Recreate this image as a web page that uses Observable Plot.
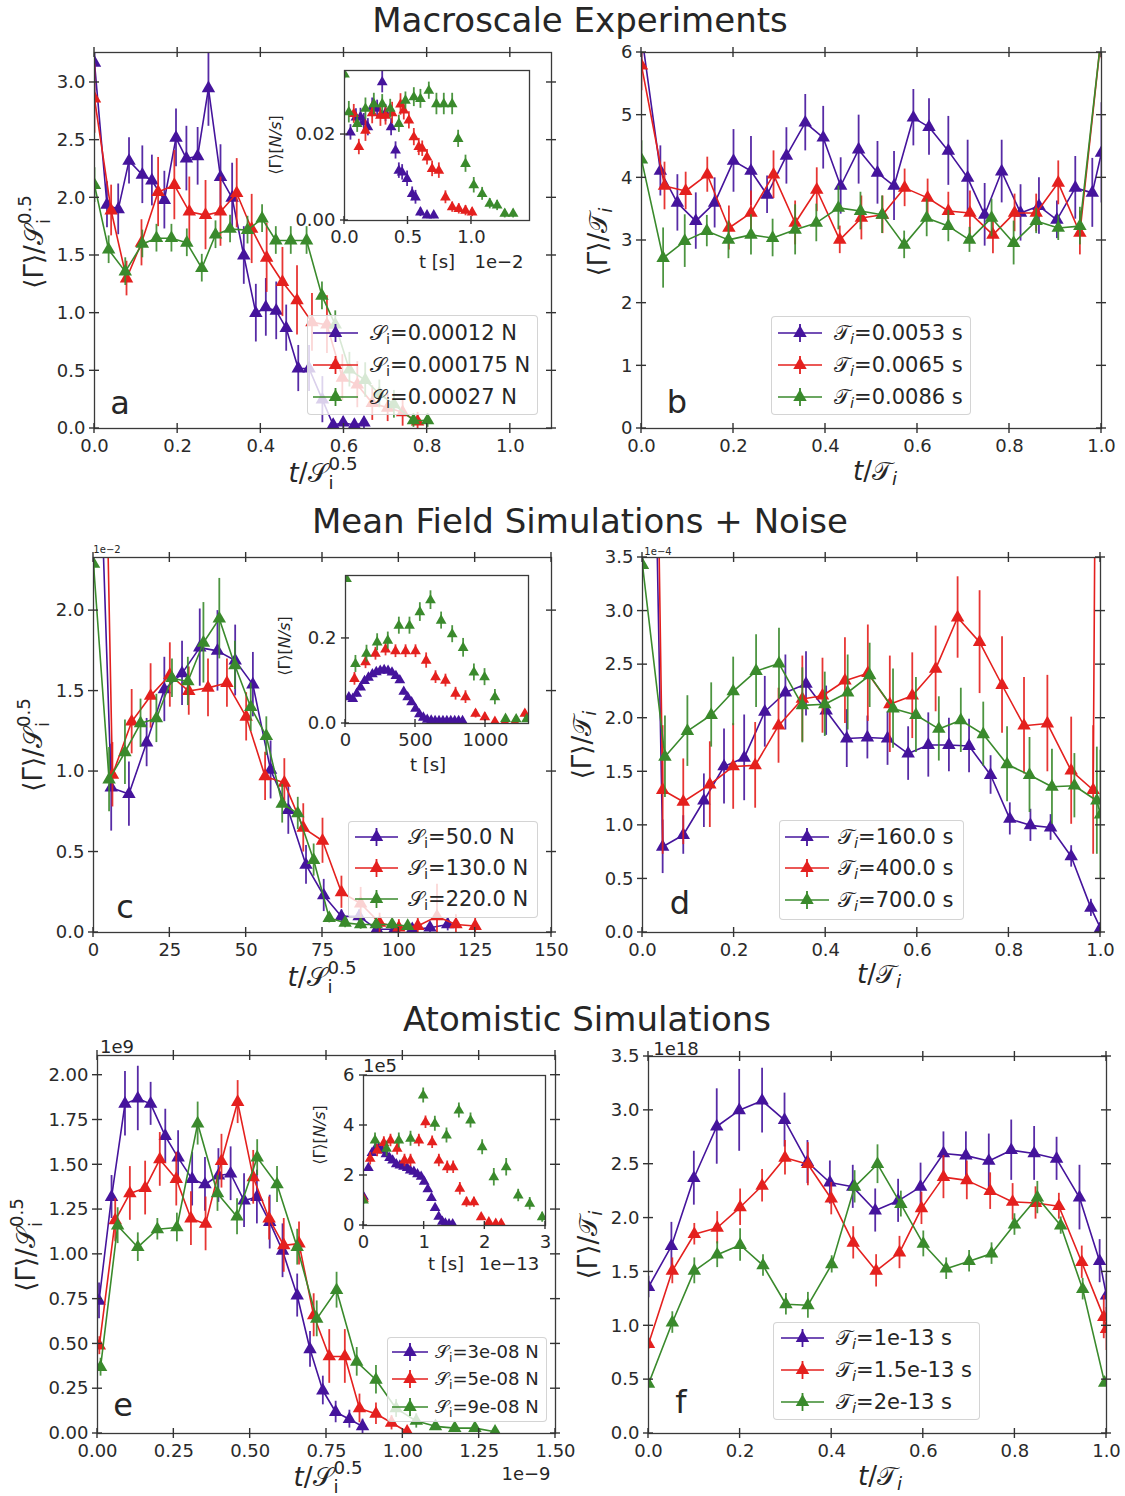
<!DOCTYPE html>
<html>
<head>
<meta charset="utf-8">
<script src="https://cdn.jsdelivr.net/npm/d3@7"></script>
<script src="https://cdn.jsdelivr.net/npm/@observablehq/plot@0.6"></script>
<style>
  html, body { margin: 0; background: #fff; }
  #fig { position: relative; width: 1125px; height: 1496px; overflow: hidden; background: #fff;
         font-family: "DejaVu Sans", "Noto Sans", sans-serif; color: #262626; }
  .t { position: absolute; white-space: nowrap; line-height: 1; transform: translate(-50%, -50%); }
  .rot { transform: translate(-50%, -50%) rotate(-90deg); }
  .cal { font-family: "DejaVu Serif", "DejaVu Sans", serif; }
  /* stacked subscript "i" and superscript "0.5" that do not enlarge the line box */
  .ss { display: inline-block; position: relative; width: 1.15em; height: 0.7em; }
  .ss span { position: absolute; left: 0.06em; font-size: 0.7em; line-height: 1; }
  .ss .sp { top: -0.46em; }
  .ss .sbb { top: 0.56em; }
  .sb { font-size: 0.7em; position: relative; top: 0.3em; }
  .legend { position: absolute; background: rgba(255,255,255,0.8); border: 1px solid rgba(204,204,204,0.85);
            border-radius: 4px; box-sizing: border-box; }
  .lt { position: absolute; white-space: nowrap; line-height: 1; transform: translateY(-50%); }
</style>
</head>
<body>
<div id="fig"></div>
<script>
// Series colours: smallest, middle, largest parameter value
const COLORS = ["#45149c", "#e4201e", "#3a8a2c"];
const FONT = '"DejaVu Sans", "Noto Sans", sans-serif';

// ---------- (a) Macroscale experiments: <Γ>/S_i^0.5 vs t/S_i^0.5 ----------
const aLegend = ["0.00012 N", "0.000175 N", "0.00027 N"];
const a1t = [0, 0.03, 0.057, 0.083, 0.115, 0.138, 0.168, 0.196, 0.221, 0.248, 0.274, 0.303, 0.331, 0.359, 0.388, 0.412, 0.437, 0.461, 0.49, 0.516, 0.548, 0.574, 0.598, 0.625, 0.648];
const a1g = [3.17, 1.94, 1.90, 2.32, 2.20, 2.15, 1.98, 2.52, 2.34, 2.36, 2.95, 2.18, 2.00, 1.50, 1.00, 1.05, 1.02, 0.87, 0.52, 0.52, 0.25, 0.03, 0.05, 0.03, 0.05];
const a1e = [0.3, 0.2, 0.22, 0.2, 0.25, 0.22, 0.25, 0.25, 0.28, 0.25, 0.33, 0.28, 0.3, 0.25, 0.25, 0.25, 0.25, 0.2, 0.2, 0.2, 0.2, 0.05, 0.05, 0.05, 0.05];
const a2t = [0, 0.04, 0.077, 0.113, 0.153, 0.192, 0.228, 0.267, 0.303, 0.342, 0.378, 0.414, 0.452, 0.487, 0.523, 0.559, 0.596, 0.632, 0.668, 0.705, 0.741, 0.777];
const a2g = [2.86, 1.89, 1.30, 1.61, 2.05, 2.11, 1.88, 1.85, 1.88, 2.04, 1.73, 1.48, 1.27, 1.11, 0.92, 0.90, 0.44, 0.38, 0.22, 0.18, 0.14, 0.06];
const a2e = [0.3, 0.22, 0.15, 0.2, 0.3, 0.3, 0.3, 0.3, 0.3, 0.3, 0.3, 0.3, 0.3, 0.3, 0.25, 0.25, 0.2, 0.2, 0.15, 0.12, 0.12, 0.08];
const a3t = [0, 0.034, 0.074, 0.115, 0.149, 0.185, 0.222, 0.258, 0.291, 0.326, 0.368, 0.403, 0.436, 0.472, 0.51, 0.547, 0.579, 0.613, 0.651, 0.685, 0.72, 0.767, 0.801];
const a3g = [2.11, 1.55, 1.36, 1.60, 1.65, 1.65, 1.61, 1.39, 1.68, 1.73, 1.72, 1.82, 1.63, 1.63, 1.63, 1.15, 0.90, 0.51, 0.42, 0.30, 0.21, 0.07, 0.07];
const a3e = [0.15, 0.12, 0.12, 0.12, 0.12, 0.12, 0.12, 0.12, 0.12, 0.12, 0.12, 0.12, 0.12, 0.12, 0.12, 0.12, 0.12, 0.15, 0.15, 0.12, 0.12, 0.06, 0.06];
// inset (a): raw <Γ> [N/s] vs t [1e-2 s]
const ia1t = [0.047, 0.09, 0.126, 0.152, 0.184, 0.218, 0.257, 0.297, 0.323, 0.367, 0.402, 0.428, 0.454, 0.493, 0.533, 0.559, 0.598, 0.65, 0.703];
const ia1g = [0.0205, 0.024, 0.0241, 0.0229, 0.0217, 0.0263, 0.026, 0.0322, 0.025, 0.0217, 0.0163, 0.0116, 0.0112, 0.0097, 0.0062, 0.0054, 0.0019, 0.0012, 0.0012];
const ia1e = [0.0018, 0.002, 0.002, 0.002, 0.002, 0.0022, 0.002, 0.0025, 0.002, 0.002, 0.002, 0.0018, 0.0018, 0.0018, 0.0016, 0.0016, 0.001, 0.0008, 0.0008];
const ia2t = [0.073, 0.113, 0.165, 0.218, 0.283, 0.323, 0.375, 0.441, 0.467, 0.507, 0.546, 0.585, 0.612, 0.65, 0.69, 0.743, 0.795, 0.848, 0.9, 0.953, 1.005];
const ia2g = [0.0248, 0.0171, 0.0209, 0.025, 0.0244, 0.0244, 0.025, 0.027, 0.0256, 0.0233, 0.0194, 0.0171, 0.0167, 0.0147, 0.012, 0.0116, 0.0054, 0.0031, 0.0027, 0.0023, 0.0019];
const ia2e = [0.0022, 0.0018, 0.0025, 0.0025, 0.0025, 0.0022, 0.0025, 0.0025, 0.0022, 0.002, 0.002, 0.002, 0.0018, 0.0018, 0.0018, 0.0018, 0.0015, 0.0012, 0.0012, 0.0012, 0.001];
const ia3t = [0.0, 0.034, 0.1, 0.165, 0.231, 0.297, 0.36, 0.428, 0.48, 0.546, 0.598, 0.664, 0.724, 0.782, 0.848, 0.895, 0.953, 1.018, 1.084, 1.144, 1.202, 1.262, 1.328];
const ia3g = [0.034, 0.0252, 0.0225, 0.026, 0.0271, 0.0271, 0.026, 0.0225, 0.0279, 0.0287, 0.0283, 0.0302, 0.0271, 0.0271, 0.0271, 0.019, 0.0132, 0.0082, 0.0062, 0.0039, 0.0035, 0.0016, 0.0016];
const ia3e = [0.001, 0.0025, 0.002, 0.0025, 0.0025, 0.0022, 0.0022, 0.002, 0.002, 0.0022, 0.0022, 0.002, 0.0025, 0.0025, 0.0025, 0.002, 0.002, 0.0018, 0.0015, 0.0012, 0.0012, 0.001, 0.001];

// ---------- (b) Macroscale experiments: <Γ>/T_i vs t/T_i ----------
const bLegend = ["0.0053 s", "0.0065 s", "0.0086 s"];
const b1t = [0, 0.041, 0.078, 0.118, 0.159, 0.2, 0.238, 0.273, 0.315, 0.356, 0.395, 0.433, 0.472, 0.513, 0.549, 0.591, 0.625, 0.667, 0.709, 0.746, 0.783, 0.824, 0.864, 0.903, 0.943, 0.98, 1.0];
const b1g = [6.3, 4.11, 3.6, 3.31, 3.6, 4.27, 4.11, 3.73, 4.35, 4.88, 4.64, 3.87, 4.45, 4.08, 3.87, 4.96, 4.81, 4.43, 4.0, 3.41, 4.1, 3.44, 3.55, 3.33, 3.84, 3.76, 4.4];
const b1e = [0.5, 0.4, 0.45, 0.45, 0.4, 0.5, 0.55, 0.3, 0.45, 0.45, 0.5, 0.45, 0.55, 0.5, 0.55, 0.45, 0.45, 0.55, 0.6, 0.5, 0.5, 0.45, 0.45, 0.3, 0.5, 0.55, 0.8];
const b2t = [0, 0.05, 0.096, 0.143, 0.19, 0.238, 0.287, 0.334, 0.381, 0.431, 0.478, 0.524, 0.572, 0.622, 0.667, 0.714, 0.764, 0.811, 0.858, 0.906, 0.953, 1.0];
const b2g = [5.79, 3.87, 3.79, 4.05, 3.2, 3.44, 4.05, 3.28, 3.81, 3.01, 3.36, 3.41, 3.84, 3.68, 3.47, 3.44, 3.09, 3.44, 3.44, 3.92, 3.12, 6.3];
const b2e = [0.4, 0.38, 0.3, 0.28, 0.35, 0.35, 0.38, 0.35, 0.35, 0.22, 0.35, 0.3, 0.3, 0.3, 0.3, 0.35, 0.3, 0.3, 0.3, 0.35, 0.35, 0.4];
const b3t = [0, 0.047, 0.094, 0.142, 0.189, 0.238, 0.285, 0.334, 0.38, 0.428, 0.476, 0.523, 0.571, 0.62, 0.667, 0.713, 0.761, 0.809, 0.858, 0.906, 0.953, 1.0];
const b3g = [4.29, 2.72, 2.99, 3.15, 3.01, 3.09, 3.04, 3.17, 3.28, 3.52, 3.47, 3.41, 2.93, 3.36, 3.23, 3.01, 3.36, 2.96, 3.31, 3.2, 3.23, 6.3];
const b3e = [0.3, 0.48, 0.42, 0.25, 0.3, 0.32, 0.3, 0.4, 0.3, 0.35, 0.3, 0.3, 0.22, 0.3, 0.25, 0.2, 0.3, 0.35, 0.2, 0.2, 0.3, 0.3];

// ---------- (c) Mean field + noise: <Γ>/S_i^0.5 [1e-2] vs t/S_i^0.5 ----------
const cLegend = ["50.0 N", "130.0 N", "220.0 N"];
const c1t = [0, 5.8, 11.6, 17.4, 23.2, 29, 34.8, 40.6, 46.4, 52.2, 58, 63.8, 69.6, 75.4, 81.2, 87, 92.8, 98.6, 104.4, 110.2, 116];
const c1g = [4.2, 0.90, 0.86, 1.18, 1.51, 1.61, 1.77, 1.75, 1.69, 1.54, 1.01, 0.76, 0.42, 0.23, 0.10, 0.10, 0.02, 0.02, 0.02, 0.03, 0.05];
const c1e = [0.3, 0.27, 0.2, 0.15, 0.2, 0.2, 0.24, 0.25, 0.22, 0.2, 0.18, 0.15, 0.12, 0.1, 0.04, 0.04, 0.03, 0.03, 0.03, 0.03, 0.04];
const c2t = [0, 6.2, 12.5, 18.7, 25, 31.2, 37.5, 43.7, 50, 56.2, 62.5, 68.7, 75, 81.2, 87.5, 93.7, 100, 106.2, 112.5, 118.7, 125];
const c2g = [7.0, 0.98, 1.31, 1.47, 1.60, 1.50, 1.52, 1.55, 1.34, 0.97, 0.93, 0.65, 0.57, 0.25, 0.18, 0.06, 0.03, 0.04, 0.10, 0.05, 0.04];
const c2e = [0.3, 0.2, 0.2, 0.2, 0.2, 0.15, 0.18, 0.15, 0.15, 0.15, 0.15, 0.15, 0.14, 0.1, 0.1, 0.06, 0.05, 0.05, 0.2, 0.06, 0.05];
const c3t = [0, 5.1, 10.3, 15.4, 20.6, 25.7, 30.9, 36, 41.2, 46.3, 51.5, 56.6, 61.8, 66.9, 72.1, 77.2, 82.4, 87.5, 92.6, 97.8, 102.9];
const c3g = [2.29, 0.95, 1.12, 1.30, 1.33, 1.58, 1.56, 1.80, 1.95, 1.66, 1.40, 1.22, 0.80, 0.74, 0.45, 0.09, 0.06, 0.05, 0.05, 0.05, 0.04];
const c3e = [0.1, 0.2, 0.2, 0.15, 0.15, 0.12, 0.15, 0.25, 0.25, 0.15, 0.15, 0.12, 0.12, 0.1, 0.1, 0.03, 0.03, 0.03, 0.03, 0.03, 0.03];
// inset (c): raw <Γ> [N/s] vs t [s]
const ic1t = [24, 52, 80, 108, 136, 164, 192, 220, 248, 276, 304, 332, 360, 388, 416, 444, 472, 500, 528, 556, 584, 612, 640, 668, 696, 724, 752, 780, 808, 836];
const ic1g = [0.062, 0.058, 0.07, 0.085, 0.1, 0.108, 0.116, 0.121, 0.124, 0.126, 0.124, 0.12, 0.112, 0.102, 0.075, 0.062, 0.05, 0.035, 0.022, 0.014, 0.009, 0.007, 0.006, 0.006, 0.006, 0.006, 0.006, 0.006, 0.006, 0.006];
const ic1e = [0.008, 0.008, 0.008, 0.008, 0.008, 0.008, 0.008, 0.008, 0.008, 0.008, 0.008, 0.008, 0.008, 0.008, 0.008, 0.008, 0.007, 0.006, 0.005, 0.004, 0.003, 0.003, 0.002, 0.002, 0.002, 0.002, 0.002, 0.002, 0.002, 0.002];
const ic2t = [64, 143, 214, 286, 357, 429, 500, 576, 643, 714, 786, 857, 929, 995, 1067, 1138, 1210, 1281];
const ic2g = [0.105, 0.144, 0.164, 0.174, 0.17, 0.17, 0.17, 0.148, 0.109, 0.101, 0.07, 0.062, 0.023, 0.015, 0.004, 0.003, 0.003, 0.023];
const ic2e = [0.015, 0.015, 0.015, 0.015, 0.015, 0.015, 0.015, 0.018, 0.015, 0.015, 0.015, 0.015, 0.01, 0.01, 0.004, 0.003, 0.003, 0.01];
const ic3t = [7, 71, 150, 226, 302, 381, 457, 531, 607, 683, 762, 840, 917, 993, 1067, 1143, 1219, 1293];
const ic3g = [0.34, 0.14, 0.164, 0.191, 0.195, 0.23, 0.23, 0.262, 0.29, 0.242, 0.21, 0.178, 0.12, 0.109, 0.062, 0.011, 0.01, 0.01];
const ic3e = [0.005, 0.02, 0.02, 0.02, 0.02, 0.02, 0.02, 0.022, 0.022, 0.02, 0.02, 0.022, 0.02, 0.02, 0.018, 0.004, 0.004, 0.004];

// ---------- (d) Mean field + noise: <Γ>/T_i [1e-4] vs t/T_i ----------
const dLegend = ["160.0 s", "400.0 s", "700.0 s"];
const d1t = [0, 0.044, 0.089, 0.134, 0.178, 0.222, 0.267, 0.312, 0.357, 0.401, 0.446, 0.491, 0.535, 0.58, 0.624, 0.669, 0.713, 0.76, 0.802, 0.847, 0.891, 0.936, 0.979, 1.0];
const d1g = [11, 0.80, 0.91, 1.23, 1.55, 1.63, 2.06, 2.24, 2.32, 2.07, 1.81, 1.82, 1.81, 1.67, 1.75, 1.75, 1.74, 1.47, 1.06, 1.0, 0.98, 0.71, 0.23, 0.04];
const d1e = [0.3, 0.25, 0.18, 0.25, 0.35, 0.4, 0.33, 0.35, 0.3, 0.23, 0.27, 0.2, 0.25, 0.25, 0.3, 0.25, 0.25, 0.18, 0.15, 0.15, 0.12, 0.1, 0.08, 0.05];
const d2t = [0, 0.044, 0.089, 0.147, 0.198, 0.246, 0.297, 0.349, 0.393, 0.442, 0.492, 0.54, 0.589, 0.64, 0.688, 0.736, 0.785, 0.833, 0.884, 0.936, 0.984, 1.0];
const d2g = [14, 1.33, 1.22, 1.38, 1.55, 1.56, 1.93, 2.18, 2.21, 2.35, 2.42, 2.13, 2.21, 2.46, 2.94, 2.71, 2.31, 1.93, 1.95, 1.51, 1.33, 12];
const d2e = [0.5, 0.6, 0.4, 0.4, 0.4, 0.4, 0.35, 0.4, 0.35, 0.4, 0.45, 0.45, 0.4, 0.4, 0.38, 0.48, 0.45, 0.45, 0.45, 0.5, 0.6, 0.5];
const d3t = [0, 0.049, 0.098, 0.15, 0.198, 0.248, 0.298, 0.349, 0.398, 0.448, 0.496, 0.547, 0.597, 0.647, 0.695, 0.744, 0.796, 0.845, 0.894, 0.943, 0.992, 1.0];
const d3g = [3.43, 1.64, 1.88, 2.03, 2.25, 2.44, 2.51, 2.12, 2.13, 2.24, 2.40, 2.09, 2.03, 1.90, 1.98, 1.85, 1.57, 1.47, 1.36, 1.37, 1.23, 1.1];
const d3e = [0.1, 0.38, 0.33, 0.3, 0.32, 0.34, 0.33, 0.35, 0.3, 0.35, 0.3, 0.37, 0.35, 0.3, 0.3, 0.3, 0.35, 0.35, 0.35, 0.3, 0.5, 0.6];

// ---------- (e) Atomistic: <Γ>/S_i^0.5 [1e9] vs t/S_i^0.5 [1e-9] ----------
const eLegend = ["3e-08 N", "5e-08 N", "9e-08 N"];
const e1t = [0.005, 0.046, 0.09, 0.132, 0.174, 0.222, 0.264, 0.31, 0.352, 0.396, 0.436, 0.48, 0.522, 0.564, 0.606, 0.654, 0.696, 0.738, 0.78, 0.825, 0.868];
const e1g = [0.74, 1.32, 1.84, 1.87, 1.84, 1.66, 1.54, 1.42, 1.39, 1.44, 1.45, 1.30, 1.32, 1.18, 1.02, 0.77, 0.47, 0.24, 0.12, 0.08, 0.04];
const e1e = [0.1, 0.12, 0.18, 0.18, 0.12, 0.15, 0.15, 0.15, 0.15, 0.15, 0.15, 0.15, 0.15, 0.15, 0.15, 0.12, 0.1, 0.08, 0.06, 0.05, 0.04];
const e2t = [0.006, 0.058, 0.106, 0.156, 0.204, 0.258, 0.306, 0.354, 0.406, 0.459, 0.51, 0.562, 0.61, 0.66, 0.708, 0.759, 0.81, 0.858, 0.912, 0.963, 1.014];
const e2g = [0.49, 1.19, 1.34, 1.37, 1.53, 1.42, 1.20, 1.17, 1.52, 1.85, 1.43, 1.20, 1.05, 1.06, 0.66, 0.43, 0.43, 0.14, 0.11, 0.06, 0.01];
const e2e = [0.05, 0.12, 0.15, 0.15, 0.15, 0.15, 0.15, 0.15, 0.15, 0.12, 0.15, 0.12, 0.15, 0.12, 0.12, 0.15, 0.15, 0.08, 0.06, 0.04, 0.02];
const e3t = [0.01, 0.066, 0.132, 0.196, 0.26, 0.328, 0.393, 0.457, 0.523, 0.588, 0.654, 0.718, 0.783, 0.849, 0.912, 0.978, 1.044, 1.107, 1.17, 1.236, 1.302];
const e3g = [0.37, 1.16, 1.04, 1.14, 1.15, 1.73, 1.34, 1.21, 1.54, 1.39, 1.04, 0.64, 0.80, 0.40, 0.30, 0.14, 0.07, 0.04, 0.03, 0.03, 0.01];
const e3e = [0.05, 0.1, 0.08, 0.06, 0.08, 0.12, 0.1, 0.1, 0.1, 0.1, 0.1, 0.1, 0.1, 0.08, 0.08, 0.05, 0.04, 0.02, 0.02, 0.02, 0.02];
// inset (e): raw <Γ> [1e5 N/s] vs t [1e-13 s]
const ie1t = [0.0, 0.08, 0.14, 0.2, 0.25, 0.31, 0.37, 0.43, 0.48, 0.54, 0.6, 0.66, 0.72, 0.77, 0.83, 0.89, 0.95, 1.0, 1.06, 1.12, 1.18, 1.24, 1.3, 1.35, 1.41, 1.47];
const ie1g = [1.15, 2.3, 2.9, 3.1, 3.1, 3.0, 2.85, 2.7, 2.6, 2.45, 2.4, 2.35, 2.3, 2.2, 2.15, 2.05, 1.95, 1.75, 1.45, 1.1, 0.7, 0.35, 0.15, 0.08, 0.05, 0.05];
const ie1e = [0.15, 0.12, 0.12, 0.12, 0.12, 0.12, 0.12, 0.12, 0.12, 0.12, 0.12, 0.12, 0.12, 0.12, 0.12, 0.12, 0.12, 0.12, 0.12, 0.1, 0.1, 0.08, 0.05, 0.04, 0.03, 0.03];
const ie2t = [0, 0.11, 0.225, 0.335, 0.445, 0.555, 0.676, 0.775, 0.912, 1.022, 1.132, 1.242, 1.38, 1.478, 1.588, 1.698, 1.82, 1.94, 2.066, 2.18, 2.27];
const ie2g = [1.07, 2.67, 3.0, 3.3, 3.4, 3.07, 2.6, 2.6, 3.4, 4.13, 3.33, 2.6, 2.33, 2.33, 1.47, 0.93, 0.93, 0.33, 0.13, 0.07, 0.07];
const ie2e = [0.15, 0.25, 0.25, 0.25, 0.25, 0.25, 0.25, 0.25, 0.25, 0.25, 0.25, 0.25, 0.25, 0.25, 0.25, 0.2, 0.2, 0.12, 0.08, 0.05, 0.05];
const ie3t = [0, 0.19, 0.38, 0.582, 0.775, 0.984, 1.176, 1.368, 1.572, 1.764, 1.956, 2.148, 2.352, 2.55, 2.74, 2.945];
const ie3g = [1.0, 3.4, 3.07, 3.4, 3.47, 5.2, 4.07, 3.6, 4.6, 4.2, 3.13, 1.93, 2.33, 1.2, 0.87, 0.33];
const ie3e = [0.15, 0.3, 0.3, 0.3, 0.3, 0.3, 0.3, 0.3, 0.3, 0.3, 0.3, 0.35, 0.35, 0.25, 0.25, 0.2];

// ---------- (f) Atomistic: <Γ>/T_i [1e18] vs t/T_i ----------
const fLegend = ["1e-13 s", "1.5e-13 s", "2e-13 s"];
const f1t = [0, 0.05, 0.099, 0.149, 0.198, 0.248, 0.297, 0.347, 0.396, 0.446, 0.495, 0.545, 0.594, 0.644, 0.693, 0.743, 0.792, 0.842, 0.891, 0.941, 0.985, 1.0];
const f1g = [1.36, 1.74, 2.37, 2.85, 3.0, 3.09, 2.91, 2.52, 2.33, 2.29, 2.07, 2.16, 2.29, 2.6, 2.58, 2.53, 2.63, 2.6, 2.55, 2.19, 1.6, 1.28];
const f1e = [0.1, 0.22, 0.25, 0.35, 0.38, 0.3, 0.25, 0.2, 0.2, 0.2, 0.2, 0.2, 0.22, 0.2, 0.22, 0.25, 0.28, 0.25, 0.2, 0.3, 0.2, 0.2];
const f2t = [0, 0.052, 0.1, 0.15, 0.2, 0.248, 0.298, 0.348, 0.399, 0.447, 0.497, 0.548, 0.596, 0.644, 0.695, 0.746, 0.795, 0.845, 0.896, 0.946, 0.994, 1.0];
const f2g = [0.83, 1.51, 1.85, 1.91, 2.1, 2.3, 2.56, 2.5, 2.18, 1.77, 1.51, 1.68, 2.09, 2.38, 2.35, 2.25, 2.15, 2.14, 2.11, 1.59, 1.08, 0.97];
const f2e = [0.05, 0.12, 0.1, 0.15, 0.17, 0.15, 0.16, 0.2, 0.15, 0.15, 0.15, 0.15, 0.15, 0.2, 0.18, 0.17, 0.17, 0.15, 0.12, 0.15, 0.2, 0.2];
const f3t = [0, 0.052, 0.1, 0.15, 0.2, 0.25, 0.3, 0.348, 0.4, 0.45, 0.5, 0.551, 0.6, 0.65, 0.7, 0.749, 0.799, 0.849, 0.9, 0.948, 0.996];
const f3g = [0.46, 1.03, 1.51, 1.66, 1.75, 1.56, 1.2, 1.19, 1.57, 2.29, 2.5, 2.13, 1.76, 1.53, 1.6, 1.67, 1.94, 2.19, 1.93, 1.34, 0.47];
const f3e = [0.03, 0.1, 0.12, 0.12, 0.15, 0.1, 0.1, 0.12, 0.08, 0.15, 0.18, 0.12, 0.12, 0.1, 0.1, 0.1, 0.1, 0.15, 0.08, 0.1, 0.03];

// ---------- tick values ----------
const ticks01 = [0, 0.2, 0.4, 0.6, 0.8, 1.0];
const aTicksY = [0, 0.5, 1.0, 1.5, 2.0, 2.5, 3.0];
const bTicksY = [0, 1, 2, 3, 4, 5, 6];
const cTicksX = [0, 25, 50, 75, 100, 125, 150];
const cTicksY = [0, 0.5, 1.0, 1.5, 2.0];
const dTicksY = [0, 0.5, 1.0, 1.5, 2.0, 2.5, 3.0, 3.5];
const eTicksX = [0, 0.25, 0.5, 0.75, 1.0, 1.25, 1.5];
const eTicksY = [0, 0.25, 0.5, 0.75, 1.0, 1.25, 1.5, 1.75, 2.0];
const iaTicksX = [0, 0.5, 1.0], iaTicksY = [0, 0.02];
const icTicksX = [0, 500, 1000], icTicksY = [0, 0.2];
const ieTicksX = [0, 1, 2, 3], ieTicksY = [0, 2, 4, 6];

const fig = document.getElementById("fig");
const ser = (t, g, e) => t.map((v, i) => ({t: v, g: g[i], e: e[i]}));

// in-out ticks on the frame, placed with the plot's own scales
function frameTicks(xt, yt, len, allSides) {
  return (index, {x, y}, values, dims) => {
    const g = d3.create("svg:g").attr("stroke", "#333").attr("stroke-width", 1.4);
    const top = dims.marginTop, bottom = dims.height - dims.marginBottom;
    const left = dims.marginLeft, right = dims.width - dims.marginRight;
    for (const v of xt) {
      const px = x(v);
      g.append("line").attr("x1", px).attr("x2", px).attr("y1", bottom - len).attr("y2", bottom + len);
      if (allSides) g.append("line").attr("x1", px).attr("x2", px).attr("y1", top - len).attr("y2", top + len);
    }
    for (const v of yt) {
      const py = y(v);
      g.append("line").attr("y1", py).attr("y2", py).attr("x1", left - len).attr("x2", left + len);
      if (allSides) g.append("line").attr("y1", py).attr("y2", py).attr("x1", right - len).attr("x2", right + len);
    }
    return g.node();
  };
}

function drawPanel(cfg) {
  const {frame: [L, T, R, B], xDomain, yDomain, xTicks, yTicks, xFmt, yFmt, series,
         inset = false, fontSize = 18, r = 5} = cfg;
  const m = inset ? {l: 56, r: 8, t: 8, b: 34} : {l: 80, r: 24, t: 20, b: 44};
  const marks = [];
  if (inset) marks.push(Plot.frame({fill: "white", stroke: "none"}));
  series.forEach((rows, k) => {
    const color = COLORS[k];
    marks.push(Plot.ruleX(rows, {x: "t", y1: d => d.g - d.e, y2: d => d.g + d.e, stroke: color, strokeWidth: 1.8, strokeOpacity: 0.9, clip: true}));
    if (!inset) marks.push(Plot.line(rows, {x: "t", y: "g", stroke: color, strokeWidth: 1.6, clip: true}));
    marks.push(Plot.dot(rows, {x: "t", y: "g", symbol: "triangle", r, fill: color, stroke: "none", clip: true}));
  });
  marks.push(Plot.frame({stroke: "#3a3a3a", strokeWidth: 1.3}));
  marks.push(frameTicks(xTicks, yTicks, inset ? 4 : 5, !inset));
  marks.push(Plot.axisX({anchor: "bottom", ticks: xTicks, tickFormat: xFmt, tickSize: 0, tickPadding: inset ? 10 : 11, label: null}));
  marks.push(Plot.axisY({anchor: "left", ticks: yTicks, tickFormat: yFmt, tickSize: 0, tickPadding: 9, label: null}));
  const svg = Plot.plot({
    width: R - L + m.l + m.r, height: B - T + m.t + m.b,
    marginLeft: m.l, marginRight: m.r, marginTop: m.t, marginBottom: m.b,
    x: {domain: xDomain, label: null}, y: {domain: yDomain, label: null},
    style: {background: "transparent", fontFamily: FONT, fontSize: fontSize + "px", color: "#2a2a2a", overflow: "visible"},
    marks
  });
  svg.style.position = "absolute";
  svg.style.left = (L - m.l) + "px";
  svg.style.top = (T - m.t) + "px";
  svg.style.maxWidth = "none";
  fig.appendChild(svg);
}

function text(html, x, y, size, extra = "") {
  const el = document.createElement("div");
  el.className = "t " + extra;
  el.style.left = x + "px"; el.style.top = y + "px"; el.style.fontSize = size + "px";
  el.innerHTML = html;
  fig.appendChild(el);
}

function swatch(color, x0, x1, yc) {
  const w = x1 - x0;
  const svg = d3.create("svg").attr("width", w).attr("height", 24)
    .style("position", "absolute").style("left", x0 + "px").style("top", (yc - 12) + "px").style("overflow", "visible");
  svg.append("line").attr("x1", 0).attr("x2", w).attr("y1", 12).attr("y2", 12).attr("stroke", color).attr("stroke-width", 1.6);
  svg.append("line").attr("x1", w / 2).attr("x2", w / 2).attr("y1", 3).attr("y2", 21).attr("stroke", color).attr("stroke-width", 1.8);
  svg.append("path").attr("transform", `translate(${w / 2},12)`).attr("d", d3.symbol(d3.symbolTriangle, 78.5)()).attr("fill", color);
  fig.appendChild(svg.node());
}

function legend({box: [x0, y0, x1, y1], rows, sw, tx, labels, size}) {
  const el = document.createElement("div");
  el.className = "legend";
  Object.assign(el.style, {left: x0 + "px", top: y0 + "px", width: (x1 - x0) + "px", height: (y1 - y0) + "px"});
  fig.appendChild(el);
  labels.forEach((html, k) => {
    swatch(COLORS[k], sw[0], sw[1], rows[k]);
    const t = document.createElement("div");
    t.className = "lt";
    Object.assign(t.style, {left: tx + "px", top: rows[k] + "px", fontSize: size + "px"});
    t.innerHTML = html;
    fig.appendChild(t);
  });
}

const f1 = d3.format(".1f"), f2 = d3.format(".2f"), f0 = d3.format("d");
const CS = '<span class="cal">&#x1D4AE;</span>';
const CT = '<span class="cal">&#x1D4AF;</span>';
const SI = CS + '<span class="ss"><span class="sp">0.5</span><span class="sbb">i</span></span>';
const TI = CT + '<span class="sb"><i>i</i></span>';
const legS = v => `${CS}<span class="sb">i</span>=${v}`;
const legT = v => `${TI}=${v}`;

// ---- main panels ----
drawPanel({frame: [94, 52, 551, 428], xDomain: [0, 1.099], yDomain: [0, 3.26], xTicks: ticks01, yTicks: aTicksY, xFmt: f1, yFmt: f1,
  series: [ser(a1t, a1g, a1e), ser(a2t, a2g, a2e), ser(a3t, a3g, a3e)]});
drawPanel({frame: [641, 52, 1101, 428], xDomain: [0, 1], yDomain: [0, 6], xTicks: ticks01, yTicks: bTicksY, xFmt: f1, yFmt: f0,
  series: [ser(b1t, b1g, b1e), ser(b2t, b2g, b2e), ser(b3t, b3g, b3e)]});
drawPanel({frame: [93, 557, 551, 932], xDomain: [0, 150], yDomain: [0, 2.33], xTicks: cTicksX, yTicks: cTicksY, xFmt: f0, yFmt: f1,
  series: [ser(c1t, c1g, c1e), ser(c2t, c2g, c2e), ser(c3t, c3g, c3e)]});
drawPanel({frame: [642, 557, 1100, 932], xDomain: [0, 1], yDomain: [0, 3.5], xTicks: ticks01, yTicks: dTicksY, xFmt: f1, yFmt: f1,
  series: [ser(d1t, d1g, d1e), ser(d2t, d2g, d2e), ser(d3t, d3g, d3e)]});
drawPanel({frame: [97, 1055, 555, 1433], xDomain: [0, 1.5], yDomain: [0, 2.11], xTicks: eTicksX, yTicks: eTicksY, xFmt: f2, yFmt: f2,
  series: [ser(e1t, e1g, e1e), ser(e2t, e2g, e2e), ser(e3t, e3g, e3e)]});
drawPanel({frame: [648, 1056, 1106, 1433], xDomain: [0, 1], yDomain: [0, 3.5], xTicks: ticks01, yTicks: dTicksY, xFmt: f1, yFmt: f1,
  series: [ser(f1t, f1g, f1e), ser(f2t, f2g, f2e), ser(f3t, f3g, f3e)]});

// ---- legends ----
legend({box: [307, 315, 538, 415], rows: [333, 365, 397], sw: [313, 358], tx: 370, size: 21, labels: aLegend.map(legS)});
legend({box: [771, 316, 971, 415], rows: [333, 365, 397], sw: [778, 822], tx: 834, size: 21, labels: bLegend.map(legT)});
legend({box: [348, 821, 538, 918], rows: [837, 868, 899], sw: [355, 398], tx: 408, size: 21, labels: cLegend.map(legS)});
legend({box: [779, 820, 964, 920], rows: [837, 868, 900], sw: [785, 829], tx: 838, size: 21, labels: dLegend.map(legT)});
legend({box: [387, 1337, 547, 1422], rows: [1352, 1379, 1407], sw: [392, 428], tx: 435, size: 18, labels: eLegend.map(legS)});
legend({box: [773, 1322, 980, 1420], rows: [1338, 1370, 1402], sw: [781, 824], tx: 836, size: 21, labels: fLegend.map(legT)});

// ---- insets: raw data, markers with error bars only ----
drawPanel({inset: true, r: 4, frame: [344, 70, 529, 220], xDomain: [0, 1.457], yDomain: [0, 0.0349], xTicks: iaTicksX, yTicks: iaTicksY, xFmt: f1, yFmt: f2,
  series: [ser(ia1t, ia1g, ia1e), ser(ia2t, ia2g, ia2e), ser(ia3t, ia3g, ia3e)]});
drawPanel({inset: true, r: 4, frame: [345, 575, 528, 723], xDomain: [0, 1307], yDomain: [0, 0.348], xTicks: icTicksX, yTicks: icTicksY, xFmt: f0, yFmt: f1,
  series: [ser(ic1t, ic1g, ic1e), ser(ic2t, ic2g, ic2e), ser(ic3t, ic3g, ic3e)]});
drawPanel({inset: true, r: 4, frame: [363, 1075, 545, 1225], xDomain: [0, 3], yDomain: [0, 6], xTicks: ieTicksX, yTicks: ieTicksY, xFmt: f0, yFmt: f0,
  series: [ser(ie1t, ie1g, ie1e), ser(ie2t, ie2g, ie2e), ser(ie3t, ie3g, ie3e)]});

// ---- section titles ----
text("Macroscale Experiments", 580, 20, 34);
text("Mean Field Simulations + Noise", 580, 521, 34);
text("Atomistic Simulations", 587, 1019, 34);

// ---- axis titles ----
const xS = `<i>t</i>/${SI}`, yS = `⟨Γ⟩/${SI}`;
const xT = `<i>t</i>/${TI}`, yT = `⟨Γ⟩/${TI}`;
text(xS, 323, 473, 26); text(xT, 875, 471, 26);
text(xS, 322, 977, 26); text(xT, 879, 974, 26);
text(xS, 328, 1477, 26); text(xT, 880, 1476, 26);
text(yS, 34, 242, 26, "rot"); text(yT, 598, 242, 26, "rot");
text(yS, 33, 745, 26, "rot"); text(yT, 582, 745, 26, "rot");
text(yS, 26, 1245, 26, "rot"); text(yT, 588, 1245, 26, "rot");

// ---- scale offsets ----
text("1e\u22122", 107, 550, 10); text("1e\u22124", 658, 552, 10);
text("1e9", 117, 1047, 18); text("1e18", 676, 1049, 18);
text("1e\u22129", 526, 1474, 18);

// ---- inset axis titles ----
const yRaw = "⟨Γ⟩[<i>N/s</i>]";
text(yRaw, 276, 145, 16, "rot"); text("t [s]", 437, 262, 18); text("1e\u22122", 499, 262, 18);
text(yRaw, 285, 646, 16, "rot"); text("t [s]", 428, 765, 18);
text(yRaw, 320, 1135, 16, "rot"); text("t [s]", 446, 1264, 18); text("1e\u221213", 509, 1264, 18);
text("1e5", 380, 1066, 18);

// ---- panel letters ----
text("a", 120, 403, 32); text("b", 677, 402, 32);
text("c", 125, 907, 32); text("d", 680, 903, 32);
text("e", 123, 1405, 32); text("f", 681, 1402, 32);
</script>
</body>
</html>
